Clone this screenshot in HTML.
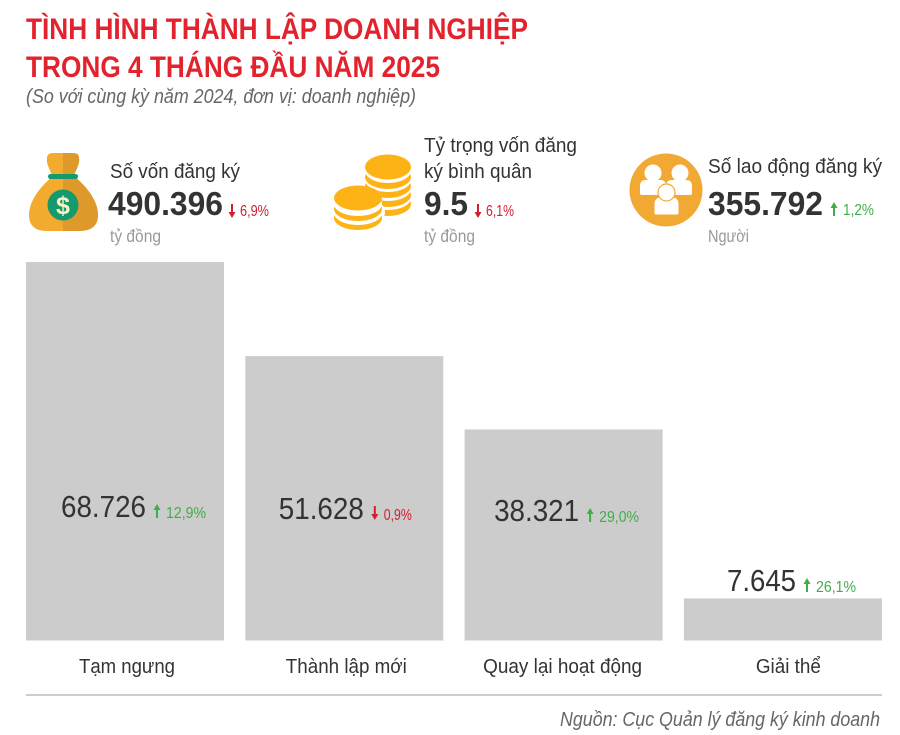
<!DOCTYPE html>
<html lang="vi">
<head>
<meta charset="utf-8">
<title>Tình hình thành lập doanh nghiệp</title>
<style>
html,body{margin:0;padding:0;background:#fff;width:900px;height:735px;overflow:hidden}
svg{display:block}
text{font-family:"Liberation Sans","Noto Sans CJK JP",sans-serif}
</style>
</head>
<body>
<svg id="chart" xmlns="http://www.w3.org/2000/svg" width="900" height="735" viewBox="0 0 900 735">
<rect width="900" height="735" fill="#fff"/>
<text x="26" y="39" font-size="30" font-weight="700" fill="#e2232e" textLength="502" lengthAdjust="spacingAndGlyphs">TÌNH HÌNH THÀNH LẬP DOANH NGHIỆP</text>
<text x="26" y="77" font-size="30" font-weight="700" fill="#e2232e" textLength="414" lengthAdjust="spacingAndGlyphs">TRONG 4 THÁNG ĐẦU NĂM 2025</text>
<text x="26" y="103" font-size="20.500" font-style="italic" fill="#666" textLength="390" lengthAdjust="spacingAndGlyphs">(So với cùng kỳ năm 2024, đơn vị: doanh nghiệp)</text>

<g>
<path d="M52 175C49 168 46 163 47 158q0-5 6-5h20q6 0 6 5c1 5-2 10-5 17z" fill="#f2ab2e"/>
<path d="M63 153h10q6 0 6 5c1 5-2 10-5 17H63z" fill="#dd9a2a"/>
<path d="M52 177C40 187 29 201 29 215q0 16 18 16h32q19 0 19-16c0-14-11-28-23-38z" fill="#f2ab2e"/>
<path d="M63 177h12c12 10 23 24 23 38q0 16-19 16H63z" fill="#dd9a2a"/>
<rect x="48" y="174" width="30" height="5" rx="2.500" fill="#149a6d"/>
<circle cx="63" cy="205" r="15.500" fill="#149a6d"/>
<text x="63" y="214" font-size="25" font-weight="700" fill="#f6f2c4" text-anchor="middle">$</text>
</g>
<text x="110" y="178" font-size="20.500" fill="#333" textLength="130" lengthAdjust="spacingAndGlyphs">Số vốn đăng ký</text>
<text x="108" y="215" font-size="33" font-weight="700" fill="#333" textLength="115" lengthAdjust="spacingAndGlyphs">490.396</text>
<path d="M231 204h2v8h2.500l-3.500 6-3.500-6h2.500z" fill="#d0202e"/>
<text x="240" y="216" font-size="16" fill="#d0202e" textLength="29" lengthAdjust="spacingAndGlyphs">6,9%</text>
<text x="110" y="242" font-size="17.500" fill="#999" textLength="51" lengthAdjust="spacingAndGlyphs">tỷ đồng</text>

<g>
<g fill="#fdb316">
<ellipse cx="388" cy="204" rx="23" ry="12"/>
</g>
<ellipse cx="388" cy="198" rx="23" ry="12" fill="#fff"/>
<ellipse cx="388" cy="195" rx="23" ry="12" fill="#fdb316"/>
<ellipse cx="388" cy="189" rx="23" ry="12" fill="#fff"/>
<ellipse cx="388" cy="186" rx="23" ry="12" fill="#fdb316"/>
<ellipse cx="388" cy="180" rx="23" ry="12" fill="#fff"/>
<ellipse cx="388" cy="177" rx="23" ry="12" fill="#fdb316"/>
<ellipse cx="388" cy="171" rx="23" ry="12" fill="#fff"/>
<ellipse cx="388" cy="167" rx="23" ry="12.500" fill="#fdb316"/>
<ellipse cx="358" cy="212" rx="27" ry="16" fill="#fff"/>
<ellipse cx="358" cy="218" rx="24" ry="12" fill="#fdb316"/>
<ellipse cx="358" cy="213" rx="24" ry="12" fill="#fff"/>
<ellipse cx="358" cy="209" rx="24" ry="12" fill="#fdb316"/>
<ellipse cx="358" cy="204" rx="24" ry="12" fill="#fff"/>
<ellipse cx="358" cy="198" rx="24" ry="12.500" fill="#fdb316"/>
</g>
<text x="424" y="152" font-size="20.500" fill="#333" textLength="153" lengthAdjust="spacingAndGlyphs">Tỷ trọng vốn đăng</text>
<text x="424" y="178" font-size="20.500" fill="#333" textLength="108" lengthAdjust="spacingAndGlyphs">ký bình quân</text>
<text x="424" y="215" font-size="33" font-weight="700" fill="#333" textLength="44" lengthAdjust="spacingAndGlyphs">9.5</text>
<path d="M477 204h2v8h2.500l-3.500 6-3.500-6h2.500z" fill="#d0202e"/>
<text x="486" y="216" font-size="16" fill="#d0202e" textLength="28" lengthAdjust="spacingAndGlyphs">6,1%</text>
<text x="424" y="242" font-size="17.500" fill="#999" textLength="51" lengthAdjust="spacingAndGlyphs">tỷ đồng</text>

<g>
<circle cx="666" cy="190" r="36.500" fill="#f2a933"/>
<g fill="#fff">
<path d="M640 186q0-6 6-6h14q6 0 6 6v7q0 2-2 2h-22q-2 0-2-2z"/>
<circle cx="653" cy="173" r="8.500"/>
<path d="M666 186q0-6 6-6h14q6 0 6 6v7q0 2-2 2h-22q-2 0-2-2z"/>
<circle cx="680" cy="173" r="8.500"/>
<path d="M654 204q0-7 7-7h11q7 0 7 7v9q0 2-2 2h-21q-2 0-2-2z" stroke="#f2a933" stroke-width="1"/>
<circle cx="666.500" cy="192.500" r="8.500" stroke="#f2a933" stroke-width="1.200"/>
</g>
</g>
<text x="708" y="173" font-size="20.500" fill="#333" textLength="174" lengthAdjust="spacingAndGlyphs">Số lao động đăng ký</text>
<text x="708" y="215" font-size="33" font-weight="700" fill="#333" textLength="115" lengthAdjust="spacingAndGlyphs">355.792</text>
<path d="M833 216h2v-8h2.500l-3.500-6-3.500 6h2.500z" fill="#3fae49"/>
<text x="843" y="215" font-size="16" fill="#3fae49" textLength="31" lengthAdjust="spacingAndGlyphs">1,2%</text>
<text x="708" y="242" font-size="17.500" fill="#999" textLength="41" lengthAdjust="spacingAndGlyphs">Người</text>

<g id="bars"></g>

<rect x="26" y="694" width="856" height="2" fill="#ccc"/>
<text x="880" y="726" font-size="20.500" font-style="italic" fill="#666" text-anchor="end" textLength="320" lengthAdjust="spacingAndGlyphs">Nguồn: Cục Quản lý đăng ký kinh doanh</text>
</svg>
<script>
const categories = ["Tạm ngưng", "Thành lập mới", "Quay lại hoạt động", "Giải thể"];
const values = [68726, 51628, 38321, 7645];
const valueLabels = ["68.726", "51.628", "38.321", "7.645"];
const changes = [12.9, -0.9, 29.0, 26.1];
const changeLabels = ["12,9%", "0,9%", "29,0%", "26,1%"];

const NS = "http://www.w3.org/2000/svg";
const group = document.getElementById("bars");
const baseY = 640.5, maxHeight = 378.5, left = 26, step = 219.3, barWidth = 198;
const rowNudge = [8.5, 1, 3, 8.6];
const categoryNudge = [2, 2, -1, 5.5];
const categoryWidth = [96, 121, 159, 65];
const yOf = v => baseY - v / Math.max(...values) * maxHeight;
const xOf = i => left + i * step;

function svgText(str, x, y, size, fill, width) {
  const t = document.createElementNS(NS, "text");
  t.setAttribute("x", x);
  t.setAttribute("y", y);
  t.setAttribute("font-size", size);
  t.setAttribute("fill", fill);
  t.setAttribute("textLength", width);
  t.setAttribute("lengthAdjust", "spacingAndGlyphs");
  t.textContent = str;
  return t;
}

values.forEach((v, i) => {
  const top = yOf(v);
  const x = xOf(i);
  const bar = document.createElementNS(NS, "rect");
  bar.setAttribute("x", x);
  bar.setAttribute("y", top);
  bar.setAttribute("width", barWidth);
  bar.setAttribute("height", baseY - top);
  bar.setAttribute("fill", "#cccccc");
  
  
  group.appendChild(bar);

  const inside = baseY - top > 100;
  const labelY = inside ? 517 + 2 * i : 591;
  const numW = valueLabels[i].length * 16 - 11;
  const chgW = changeLabels[i].length * 12 - 20;
  const centre = x + barWidth / 2;
  const rowW = numW + 20 + chgW;
  const numX = centre - rowW / 2 + rowNudge[i];

  const num = svgText(valueLabels[i], numX, labelY, 31, "#333", numW);
  
  
  group.appendChild(num);

  const up = changes[i] >= 0;
  const colour = up ? "#3fae49" : "#d0202e";
  const ax = numX + numW + 11;
  const ay = labelY + 1;
  const arrow = document.createElementNS(NS, "path");
  arrow.setAttribute("d", up
    ? `M${ax - 1} ${ay}h2v-8h2.5l-3.5-6-3.5 6h2.5z`
    : `M${ax - 1} ${ay - 14}h2v8h2.5l-3.5 6-3.5-6h2.5z`);
  arrow.setAttribute("fill", colour);
  
  
  group.appendChild(arrow);

  const chg = svgText(changeLabels[i], ax + 9, labelY + 1, 16, colour, chgW);
  
  
  group.appendChild(chg);

  const catW = categoryWidth[i];
  const cat = svgText(categories[i], centre + categoryNudge[i] - catW / 2, 673, 20.5, "#333", catW);
  
  
  group.appendChild(cat);
});
</script>
</body>
</html>
